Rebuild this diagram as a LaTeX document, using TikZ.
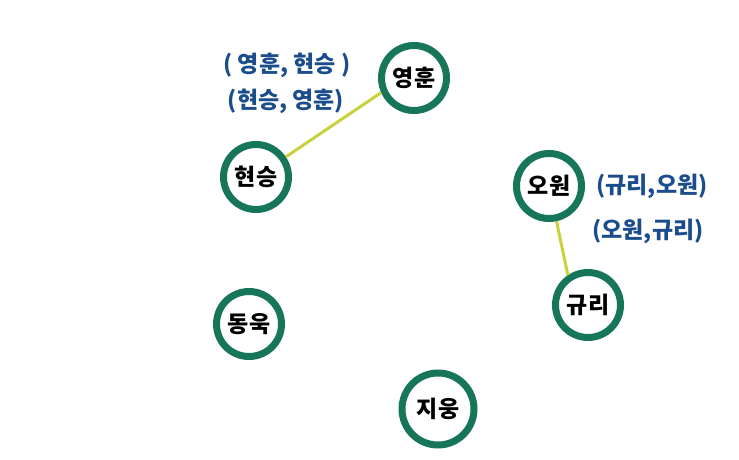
\documentclass[tikz,border=0pt]{standalone}
\usepackage{fontspec}
\setmainfont{Noto Sans CJK KR}
\newfontfamily\krfont{Noto Sans CJK KR}
\definecolor{ringgreen}{HTML}{17765A}
\definecolor{edgeyellow}{HTML}{C8D23C}
\definecolor{labelblue}{HTML}{1B4C8C}
\tikzset{
  person/.style={circle, draw=ringgreen, line width=7pt, fill=white, minimum size=65pt, inner sep=0pt, font=\krfont\bfseries\fontsize{23}{26}\selectfont, text=black},
  bigperson/.style={person, minimum size=72pt},
  pairedge/.style={draw=edgeyellow, line width=3pt},
  pairlabel/.style={font=\krfont\bfseries\fontsize{23}{26}\selectfont, text=labelblue, inner sep=0pt}
}
\begin{document}
\begin{tikzpicture}[x=1pt, y=-1pt]
\useasboundingbox (0,0) rectangle (739,460);
\node[person] (yh) at (414,78) {영훈};
\node[person] (hs) at (256,177) {현승};
\node[person] (ow) at (549,186) {오원};
\node[person] (gr) at (588,305) {규리};
\node[person] (dw) at (249,324) {동욱};
\node[bigperson] (jw) at (438,409) {지웅};
\draw[pairedge] (yh.204) -- (hs.34);
\draw[pairedge] (ow.-78) -- (gr.124);
\node[pairlabel] (l1) at (287,65) {( 영훈, 현승 )};
\node[pairlabel] (l2) at (286,101) {(현승, 영훈)};
\node[pairlabel] (l3) at (652,186) {(규리,오원)};
\node[pairlabel] (l4) at (648,231) {(오원,규리)};
\end{tikzpicture}
\end{document}
